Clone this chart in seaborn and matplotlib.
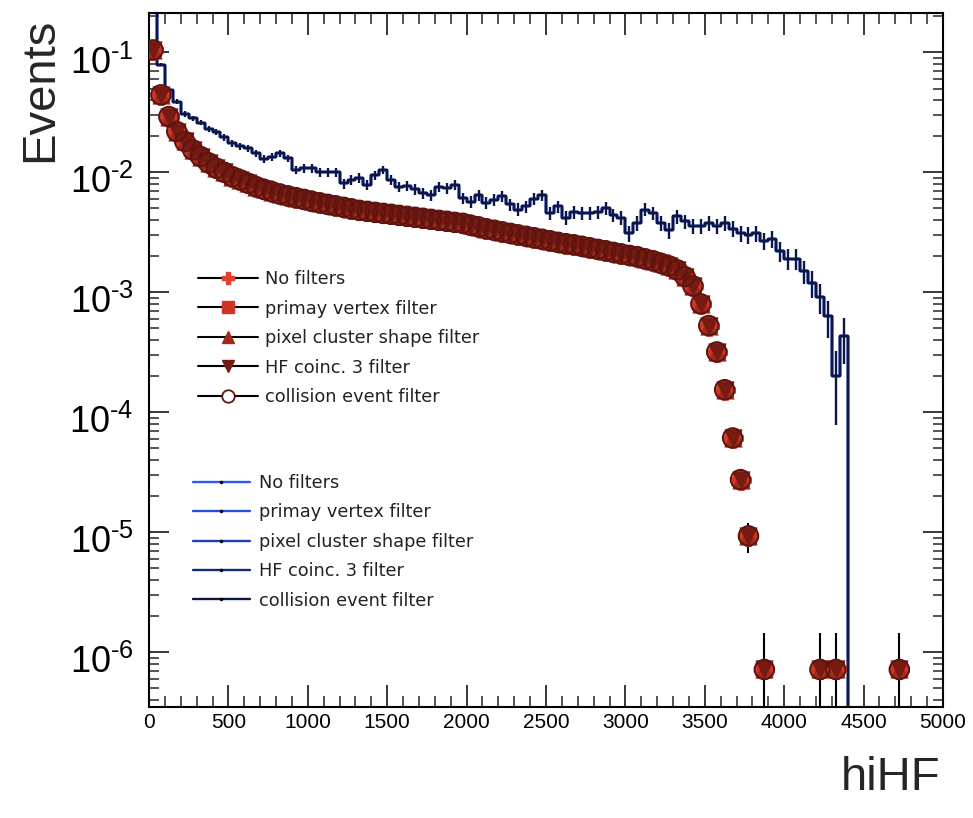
import numpy as np
import pandas as pd
import matplotlib
matplotlib.use("Agg")
import matplotlib.pyplot as plt
import matplotlib.transforms as mtransforms
import seaborn as sns
from matplotlib.lines import Line2D
from matplotlib.ticker import MultipleLocator, LogLocator, NullFormatter, FixedLocator

# ---------------- data ----------------
x_range = (0, 5000)
bin_width = 50
filter_labels = ["No filters", "primay vertex filter", "pixel cluster shape filter",
                 "HF coinc. 3 filter", "collision event filter"]

# normalised hiHF distribution, markers (50-wide bins, 0..5000)
red_events = [
    0.105, 0.0443, 0.0292, 0.0219, 0.0181, 0.0154, 0.01355, 0.0120, 0.01084, 0.0100,
    0.0092, 0.00866, 0.0081, 0.0076, 0.0072, 0.0069, 0.0066, 0.00637, 0.00616, 0.00595,
    0.00573, 0.00557, 0.00541, 0.00526, 0.00511, 0.00496, 0.00482, 0.00473, 0.00464, 0.00455,
    0.00447, 0.00438, 0.00430, 0.00422, 0.00414, 0.00406, 0.00398, 0.00391, 0.00383, 0.00376,
    0.00362, 0.00351, 0.00338, 0.00329, 0.00319, 0.00310, 0.00301, 0.00293, 0.00285, 0.00277,
    0.00269, 0.00261, 0.00254, 0.00249, 0.00242, 0.00235, 0.00228, 0.00222, 0.00215, 0.00209,
    0.00203, 0.00198, 0.00190, 0.00183, 0.00174, 0.00166, 0.00154, 0.00135, 0.00113, 0.00080,
    0.000528, 0.000318, 0.000154, 6.1e-5, 2.74e-5, 9.3e-6, 0.0, 7.15e-7, 0.0, 0.0,
    0.0, 0.0, 0.0, 0.0, 7.15e-7, 0.0, 7.15e-7, 0.0, 0.0, 0.0,
    0.0, 0.0, 0.0, 0.0, 7.15e-7, 0.0, 0.0, 0.0, 0.0, 0.0,
]

# normalised hiHF distribution, histogram lines
blue_events = [
    0.28, 0.079, 0.0487, 0.0389, 0.0307, 0.0282, 0.026, 0.0229, 0.0219, 0.0196,
    0.0175, 0.0166, 0.0159, 0.0144, 0.0129, 0.0134, 0.0144, 0.0131, 0.0105, 0.0108,
    0.0108, 0.0101, 0.0101, 0.0101, 0.0081, 0.0087, 0.0090, 0.0079, 0.0095, 0.0105,
    0.0087, 0.0076, 0.0077, 0.0072, 0.0067, 0.0065, 0.0076, 0.0074, 0.0079, 0.0061,
    0.0057, 0.0065, 0.0056, 0.0059, 0.0063, 0.0054, 0.0049, 0.0052, 0.0060, 0.0065,
    0.0046, 0.0052, 0.0042, 0.0047, 0.0046, 0.0046, 0.0047, 0.0050, 0.0044, 0.0042,
    0.0031, 0.0038, 0.0049, 0.0046, 0.0038, 0.0033, 0.0043, 0.0039, 0.0036, 0.0036,
    0.0038, 0.0036, 0.0038, 0.0034, 0.0031, 0.0030, 0.0031, 0.0027, 0.0028, 0.0022,
    0.0019, 0.0019, 0.0015, 0.0012, 0.00092, 0.00063, 0.0002, 0.00043, 0.0, 0.0,
    0.0, 0.0, 0.0, 0.0, 0.0, 0.0, 0.0, 0.0, 0.0, 0.0,
]

red_total_entries = 1.4e6
blue_total_entries = 13500

x_tick_values = [0, 500, 1000, 1500, 2000, 2500, 3000, 3500, 4000, 4500, 5000]
y_tick_values = [1e-1, 1e-2, 1e-3, 1e-4, 1e-5, 1e-6]
y_tick_labels = [r"$\mathregular{10^{\text{-}1}}$", r"$\mathregular{10^{\text{-}2}}$",
                 r"$\mathregular{10^{\text{-}3}}$", r"$\mathregular{10^{\text{-}4}}$",
                 r"$\mathregular{10^{\text{-}5}}$", r"$\mathregular{10^{\text{-}6}}$"]
y_limits = (3.48e-7, 0.2133)

# ---------------- style ----------------
sns.set_theme(style="ticks")
plt.rcParams["font.family"] = ["Liberation Sans", "DejaVu Sans"]
plt.rcParams["mathtext.fontset"] = "custom"
plt.rcParams["mathtext.rm"] = "Liberation Sans"
plt.rcParams["mathtext.it"] = "Liberation Sans:italic"
plt.rcParams["mathtext.bf"] = "Liberation Sans:bold"

red_colors = ["#e0402e", "#cf3527", "#a02a1c", "#761a12", "#5e1510"]
red_markers = ["P", "s", "^", "v", "o"]
blue_colors = ["#2a5cf5", "#2550dc", "#2040b4", "#172878", "#0e1648"]

red = np.array(red_events)
blue = np.array(blue_events)
n_bins = len(blue)
centers = x_range[0] + bin_width * (np.arange(n_bins) + 0.5)

fig = plt.figure(figsize=(9.73, 8.18), dpi=100)
ax = fig.add_axes([149 / 973, 1 - 707 / 818, (943 - 149) / 973, (707 - 13) / 818])

# ---- histogram lines ----
df_blue = pd.DataFrame({"hiHF": centers, "events": blue})
for lab, col in zip(filter_labels, blue_colors):
    sns.histplot(data=df_blue, x="hiHF", weights="events", binwidth=bin_width,
                 binrange=x_range, element="step", fill=False,
                 color=col, linewidth=1.7, ax=ax)
ax.set_yscale("log", nonpositive="clip")
bm = blue > 0
berr = np.sqrt(blue[bm] * blue_total_entries) / blue_total_entries
ax.vlines(centers[bm], np.maximum(blue[bm] - berr, 1e-12), blue[bm] + berr,
          color=blue_colors[-1], linewidth=1.7)

# ---- markers ----
rm = red > 0
rerr = np.sqrt(red[rm] * red_total_entries) / red_total_entries
ax.vlines(centers[rm], np.maximum(red[rm] - rerr, 1e-12), red[rm] + rerr,
          color="black", linewidth=1.5, zorder=3)
df_red = pd.DataFrame({"hiHF": centers[rm], "events": red[rm]})
sizes = [14, 11, 12.5, 12.5, 14]
for i, (mk, col, sz) in enumerate(zip(red_markers, red_colors, sizes)):
    if i < 4:
        sns.scatterplot(data=df_red, x="hiHF", y="events", marker=mk, s=sz ** 2,
                        color=col, edgecolor=col, linewidth=0.5, ax=ax, zorder=4 + i)
    else:
        ax.scatter(df_red["hiHF"], df_red["events"], marker=mk, s=sz ** 2,
                   facecolors="none", edgecolors=col, linewidths=1.5, zorder=9)

# ---- axes ----
ax.set_xlim(*x_range)
ax.set_ylim(*y_limits)
ax.set_xlabel("")
ax.set_ylabel("")
ax.xaxis.set_major_locator(FixedLocator(x_tick_values))
ax.xaxis.set_minor_locator(MultipleLocator(100))
ax.set_xticklabels([str(v) for v in x_tick_values], fontsize=15)
ax.yaxis.set_major_locator(FixedLocator(y_tick_values))
ax.set_yticklabels(y_tick_labels, fontsize=26)
ax.yaxis.set_minor_locator(LogLocator(base=10, subs=np.arange(2, 10), numticks=30))
ax.yaxis.set_minor_formatter(NullFormatter())
ax.tick_params(axis="x", which="major", direction="in", top=True, bottom=True,
               length=15.8, width=1.1, pad=4, colors="black")
ax.tick_params(axis="x", which="minor", direction="in", top=True, bottom=True,
               length=8, width=1.1)
ax.tick_params(axis="y", which="major", direction="in", left=True, right=True,
               length=14.4, width=1.1, pad=11, colors="black")
ax.tick_params(axis="y", which="minor", direction="in", left=True, right=True,
               length=7.2, width=1.1)
shift_down = mtransforms.ScaledTranslation(0, -7 / 100, fig.dpi_scale_trans)
for lab in ax.get_yticklabels():
    lab.set_transform(lab.get_transform() + shift_down)
for s in ax.spines.values():
    s.set_linewidth(1.5)
    s.set_color("black")
    s.set_visible(True)

fig.text(40 / 973, 1 - 18 / 818, "Events", rotation=90, ha="center", va="top", fontsize=34)
fig.text(940 / 973, 1 - 790 / 818, "hiHF", ha="right", va="baseline", fontsize=34)

# ---- legends ----
legend_font = {"family": ["DejaVu Sans"], "size": 12.8}
h1 = []
for mk, col, i in zip(red_markers, red_colors, range(5)):
    if i < 4:
        h1.append(Line2D([], [], color="black", lw=1.5, marker=mk, ms=8.5, mfc=col, mec=col))
    else:
        h1.append(Line2D([], [], color="black", lw=1.5, marker=mk, ms=9, mfc="white", mec=col, mew=1.3))
leg1 = ax.legend(h1, filter_labels, loc="upper left", bbox_to_anchor=(198 / 973, 1 - 270 / 818),
                 bbox_transform=fig.transFigure, frameon=False, prop=legend_font,
                 handlelength=3.37, handletextpad=0.42, labelspacing=0.65,
                 borderpad=0, borderaxespad=0)
for t in leg1.get_texts():
    t.set_color("#222222")
ax.add_artist(leg1)
h2 = [Line2D([], [], color=c, lw=1.7, marker=".", ms=3, mfc="black", mec="black") for c in blue_colors]
leg2 = ax.legend(h2, filter_labels, loc="upper left", bbox_to_anchor=(193 / 973, 1 - 474 / 818),
                 bbox_transform=fig.transFigure, frameon=False, prop=legend_font,
                 handlelength=3.2, handletextpad=0.5, labelspacing=0.64,
                 borderpad=0, borderaxespad=0)
for t in leg2.get_texts():
    t.set_color("#222222")

fig.savefig("out.png", dpi=100)
